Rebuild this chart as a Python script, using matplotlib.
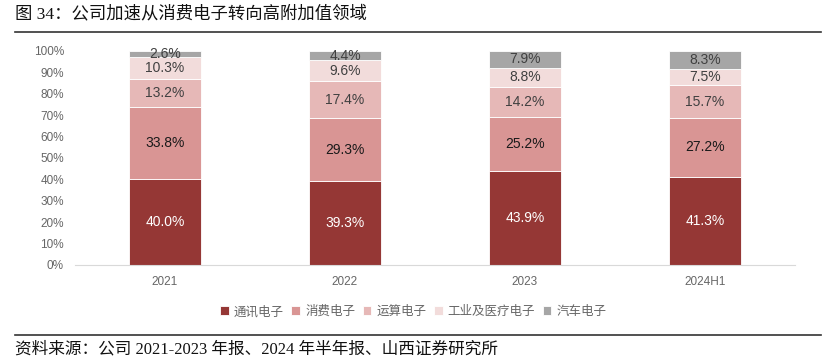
import numpy as np
import matplotlib
matplotlib.use("Agg")
import matplotlib.pyplot as plt

plt.rcParams['font.family'] = ['Liberation Sans', 'Noto Sans CJK SC']

years = ['2021', '2022', '2023', '2024H1']
segments = ['通讯电子', '消费电子', '运算电子', '工业及医疗电子', '汽车电子']
comm = [40.0, 39.3, 43.9, 41.3]
consumer = [33.8, 29.3, 25.2, 27.2]
compute = [13.2, 17.4, 14.2, 15.7]
industrial = [10.3, 9.6, 8.8, 7.5]
auto = [2.6, 4.4, 7.9, 8.3]

series = [comm, consumer, compute, industrial, auto]
colors = ['#953735', '#D99594', '#E6B8B7', '#F2DCDB', '#A6A6A6']
label_colors = ['white', '#1a1a1a', '#404040', '#404040', '#404040']

fig = plt.figure(figsize=(8.34, 3.59), dpi=100)
ax = fig.add_axes([0.09, 0.262, 0.863, 0.596])

x = np.arange(len(years))
bottom = np.zeros(len(years))
for vals, col, lc, name in zip(series, colors, label_colors, segments):
    v = np.array(vals) / 100
    ax.bar(x, v, 0.4, bottom=bottom, color=col, label=name, edgecolor='white', linewidth=0.6)
    for xi, b, h, raw in zip(x, bottom, v, vals):
        ax.text(xi, b + h / 2, f'{raw:.1f}%', ha='center', va='center', fontsize=10, color=lc)
    bottom += v

ax.set_xlim(-0.5, 3.5)
ax.set_ylim(0, 1.0)
ax.set_yticks(np.arange(0, 1.01, 0.1))
ax.set_yticklabels([f'{int(t)}%' for t in np.arange(0, 101, 10)])
ax.set_xticks(x)
ax.set_xticklabels(years)
ax.tick_params(axis='both', length=0, labelsize=8.5, labelcolor='#666666', pad=8)
for s in ['top', 'right', 'left']:
    ax.spines[s].set_visible(False)
ax.spines['bottom'].set_color('#d9d9d9')

ax.legend(loc='center', bbox_to_anchor=(0.47, -0.22), ncol=5, frameon=False,
          fontsize=9, handlelength=0.7, handleheight=0.7, handletextpad=0.4,
          columnspacing=0.6, labelcolor='#666666')

fig.text(0.018, 0.96, '图 34：公司加速从消费电子转向高附加值领域', fontsize=12.5,
         family=['Liberation Serif', 'Noto Sans CJK SC'], va='center', color='#111111')
fig.add_artist(plt.Line2D([0.018, 0.985], [0.91, 0.91], color='#333333', linewidth=1.2))
fig.add_artist(plt.Line2D([0.018, 0.985], [0.068, 0.068], color='#333333', linewidth=1.2))
fig.text(0.018, 0.027, '资料来源：公司 2021-2023 年报、2024 年半年报、山西证券研究所', fontsize=12,
         family=['Liberation Serif', 'Noto Sans CJK SC'], va='center', color='#111111')

fig.savefig('out.png', dpi=100)
